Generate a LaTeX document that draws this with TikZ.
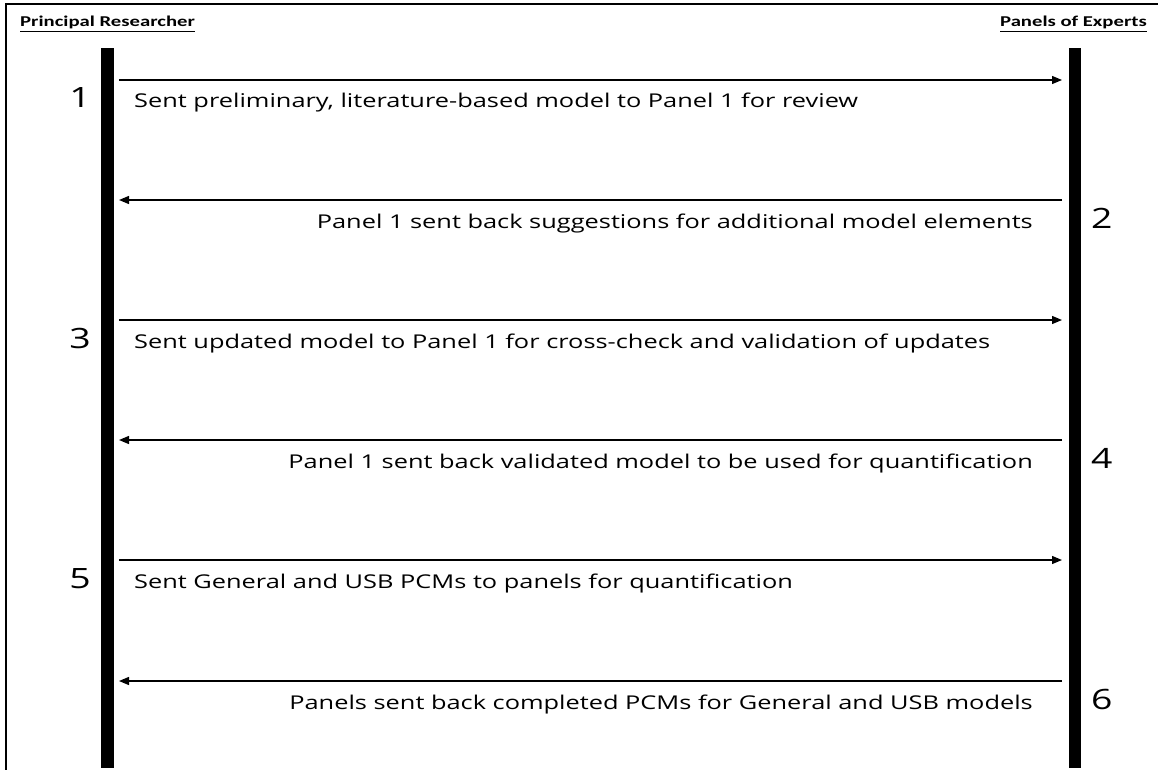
\documentclass[tikz,border=0pt]{standalone}
\usepackage{fontspec}
\setmainfont{Open Sans}
\newfontfamily\hdrfont{Carlito}
\usetikzlibrary{arrows.meta}
\newcommand{\wide}[1]{\scalebox{1.335}[1]{#1}}
\newcommand{\hwide}[1]{\scalebox{1.38}[1]{#1}}
\tikzset{
  x=1pt, y=-1pt,
  msg/.style={line width=1.3pt, -{Triangle[length=10pt,width=8pt]}},
  bar/.style={fill=black, draw=none},
  lbl/.style={inner sep=0pt, font=\fontsize{19}{21}\selectfont},
  num/.style={inner sep=0pt, font=\fontsize{28}{30}\selectfont},
  hdr/.style={inner sep=0pt, font=\hdrfont\bfseries\fontsize{15}{17}\selectfont},
}
\begin{document}
\begin{tikzpicture}
\useasboundingbox (0,0) rectangle (1158,770);
\draw[line width=1.8pt] (6,771) -- (6,4) -- (1159,4);
\node[hdr, anchor=base west] (hl) at (20,27) {\hwide{\underline{Principal Researcher}}};
\node[hdr, anchor=base east] (hr) at (1147,27) {\hwide{\underline{Panels of Experts}}};
\fill[bar] (101,48) rectangle (114,768);
\fill[bar] (1069,48) rectangle (1081,768);
\foreach \i/\y in {1/80,3/320,5/560}{
  \coordinate (s\i) at (119,\y);
  \coordinate (e\i) at (1062,\y);
  \draw[msg] (s\i) -- (e\i);
}
\foreach \i/\y in {2/200,4/440,6/681}{
  \coordinate (s\i) at (1062,\y);
  \coordinate (e\i) at (119,\y);
  \draw[msg] (s\i) -- (e\i);
}
\node[lbl, anchor=base west] (t1) at (134,108) {\wide{Sent preliminary, literature-based model to Panel 1 for review}};
\node[lbl, anchor=base east] (t2) at (1033,228) {\wide{Panel 1 sent back suggestions for additional model elements}};
\node[lbl, anchor=base west] (t3) at (134,348) {\wide{Sent updated model to Panel 1 for cross-check and validation of updates}};
\node[lbl, anchor=base east] (t4) at (1033,468) {\wide{Panel 1 sent back validated model to be used for quantification}};
\node[lbl, anchor=base west] (t5) at (134,588) {\wide{Sent General and USB PCMs to panels for quantification}};
\node[lbl, anchor=base east] (t6) at (1033,709) {\wide{Panels sent back completed PCMs for General and USB models}};
\node[num, anchor=base east] (n1) at (91,108) {\wide{1}};
\node[num, anchor=base west] (n2) at (1091,228) {\wide{2}};
\node[num, anchor=base east] (n3) at (91,348) {\wide{3}};
\node[num, anchor=base west] (n4) at (1091,468) {\wide{4}};
\node[num, anchor=base east] (n5) at (91,588) {\wide{5}};
\node[num, anchor=base west] (n6) at (1091,709) {\wide{6}};
\end{tikzpicture}
\end{document}
